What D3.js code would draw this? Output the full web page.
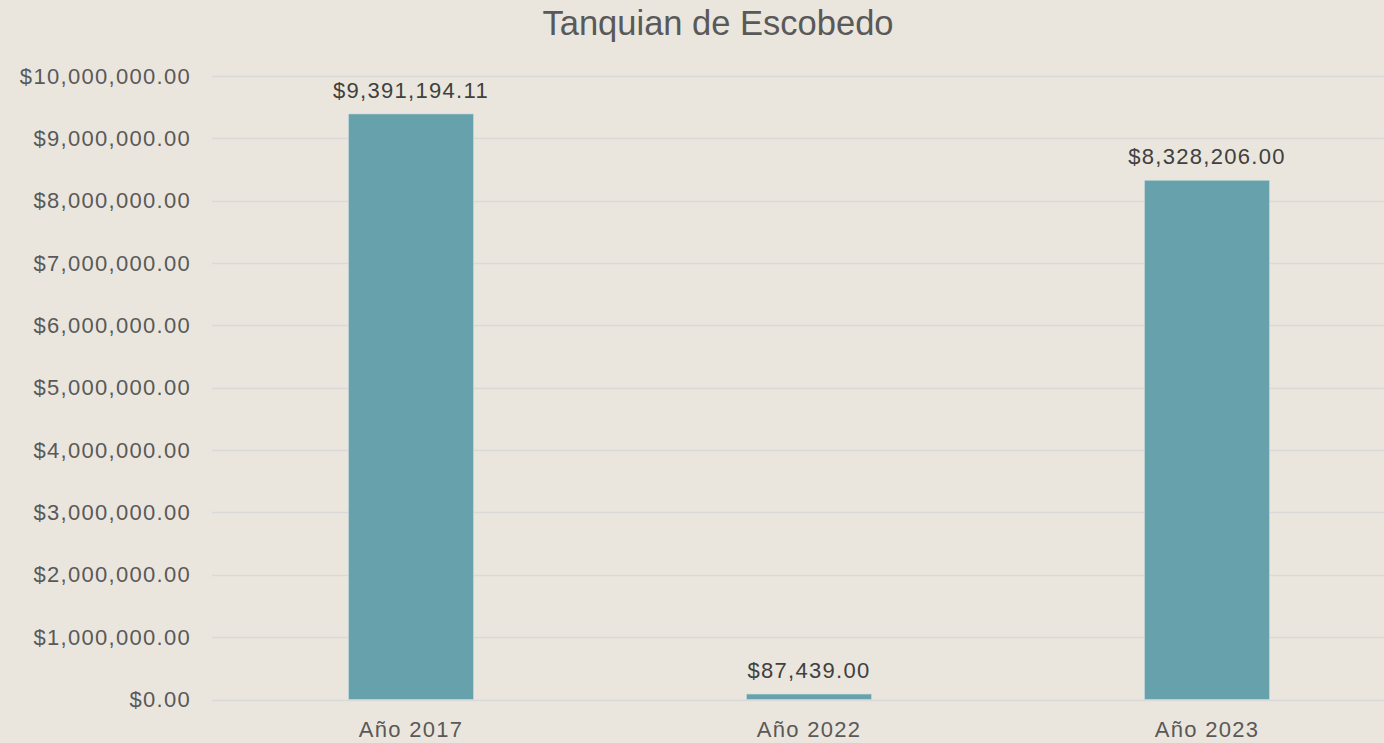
<!DOCTYPE html>
<html>
<head>
<meta charset="utf-8">
<script src="https://cdn.jsdelivr.net/npm/d3@7"></script>
<style>
  html, body { margin: 0; padding: 0; background: #EAE6DD; }
  svg { display: block; }
  text { font-family: "Liberation Sans", Arial, sans-serif; }
</style>
</head>
<body>
<svg id="chart" width="1384" height="743"></svg>
<script>
// chart data
var title = 'Tanquian de Escobedo';
var years = ['Año 2017', 'Año 2022', 'Año 2023'];
var amounts = [9391194.11, 87439.00, 8328206.00];
var yTicks = [0, 1000000, 2000000, 3000000, 4000000, 5000000, 6000000, 7000000, 8000000, 9000000, 10000000];

var svg = d3.select('#chart');
var W = 1384, H = 743;

svg.append('rect').attr('width', W).attr('height', H).attr('fill', '#EAE6DD');

var x = d3.scaleBand()
  .domain(years)
  .range([212, 1406])
  .paddingInner(0.686)
  .paddingOuter(0.343);

var y = d3.scaleLinear()
  .domain([0, 10000000])
  .range([699.5, 76]);

var money = function(v) { return '$' + d3.format(',.2f')(v); };

// gridlines
svg.append('g')
  .selectAll('line')
  .data(yTicks)
  .join('line')
    .attr('x1', 212)
    .attr('x2', W)
    .attr('y1', function(d) { return Math.round(y(d)) + 0.5; })
    .attr('y2', function(d) { return Math.round(y(d)) + 0.5; })
    .attr('stroke', '#D9D9D9')
    .attr('stroke-width', 1.5);

// y axis labels
var yAxis = d3.axisLeft(y).tickValues(yTicks).tickFormat(money).tickSize(0).tickPadding(0);
var gy = svg.append('g').attr('transform', 'translate(191,0)').call(yAxis);
gy.select('.domain').remove();
gy.selectAll('text')
  .attr('fill', '#595959')
  .style('font-size', '22px')
  .style('letter-spacing', '1.3px')
  .style('font-family', '"Liberation Sans", Arial, sans-serif');

// x axis labels
var xAxis = d3.axisBottom(x).tickSize(0).tickPadding(0);
var gx = svg.append('g').attr('transform', 'translate(0,729)').call(xAxis);
gx.select('.domain').remove();
gx.selectAll('text')
  .attr('dy', '0.35em')
  .attr('fill', '#595959')
  .style('font-size', '22px')
  .style('letter-spacing', '1.3px')
  .style('font-family', '"Liberation Sans", Arial, sans-serif');

// bars
var rows = years.map(function(k, i) { return { year: k, value: amounts[i] }; });

svg.append('g')
  .selectAll('rect')
  .data(rows)
  .join('rect')
    .attr('x', function(d) { return x(d.year); })
    .attr('width', x.bandwidth())
    .attr('y', function(d) { return y(d.value); })
    .attr('height', function(d) { return y(0) - y(d.value); })
    .attr('fill', '#67A1AB')
    .attr('stroke', '#C9DDE0')
    .attr('stroke-width', 0.6);

// data labels
svg.append('g')
  .selectAll('text')
  .data(rows)
  .join('text')
    .attr('x', function(d) { return x(d.year) + x.bandwidth() / 2; })
    .attr('y', function(d) { return y(d.value) - 16; })
    .attr('text-anchor', 'middle')
    .attr('fill', '#404040')
    .style('font-size', '22px')
    .style('letter-spacing', '1.3px')
    .text(function(d) { return money(d.value); });

// title
svg.append('text')
  .attr('x', 718)
  .attr('y', 35)
  .attr('text-anchor', 'middle')
  .attr('fill', '#595959')
  .style('font-size', '34.5px')
  .text(title);
</script>
</body>
</html>
